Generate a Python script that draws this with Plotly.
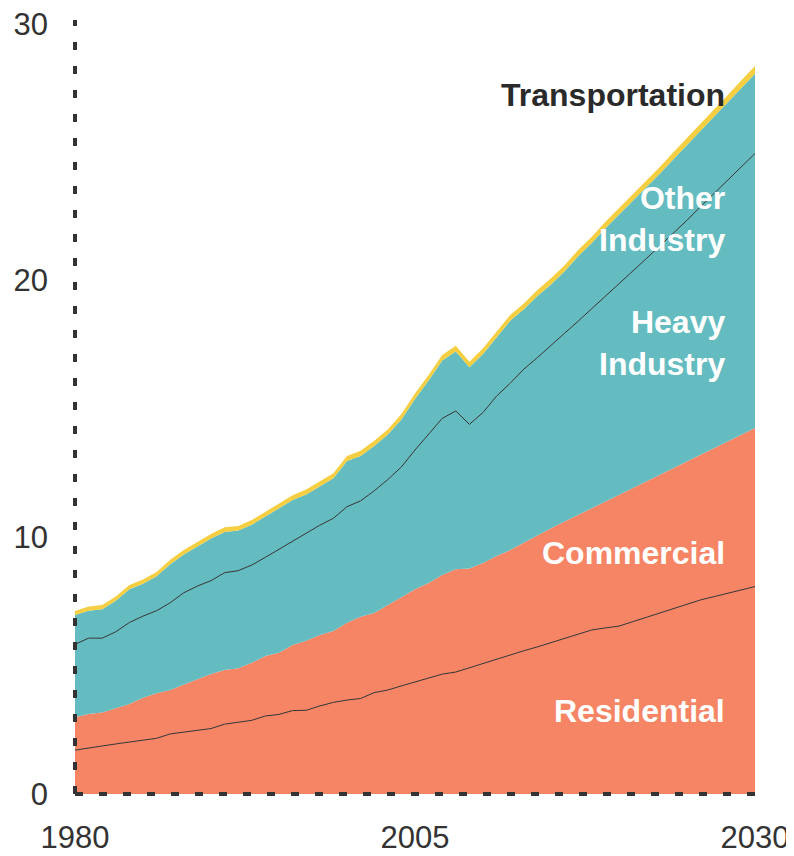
import plotly.graph_objects as go

# years 1980-2030
years = list(range(1980, 2031))

residential = [1.71, 1.78, 1.87, 1.95, 2.03, 2.10, 2.17, 2.34, 2.41, 2.47,
               2.55, 2.72, 2.80, 2.87, 3.04, 3.10, 3.25, 3.26, 3.43, 3.57,
               3.66, 3.72, 3.95, 4.05, 4.21, 4.37, 4.53, 4.67, 4.75, 4.92,
               5.09, 5.26, 5.41, 5.58, 5.73, 5.90, 6.08, 6.23, 6.39, 6.47,
               6.54, 6.71, 6.88, 7.05, 7.25, 7.42, 7.56, 7.69, 7.81, 7.95,
               8.08]
commercial = [1.28, 1.34, 1.30, 1.39, 1.48, 1.65, 1.75, 1.71, 1.86, 2.00,
              2.12, 2.11, 2.10, 2.24, 2.34, 2.40, 2.55, 2.71, 2.76, 2.78,
              3.01, 3.18, 3.10, 3.31, 3.48, 3.61, 3.69, 3.86, 4.00, 3.86,
              3.91, 4.01, 4.09, 4.21, 4.36, 4.45, 4.53, 4.64, 4.74, 4.92,
              5.11, 5.20, 5.29, 5.38, 5.43, 5.52, 5.64, 5.77, 5.92, 6.04,
              6.18]
heavy_industry = [2.84, 2.95, 2.90, 2.98, 3.17, 3.18, 3.22, 3.40, 3.57, 3.63,
                  3.64, 3.79, 3.80, 3.81, 3.84, 4.03, 4.07, 4.21, 4.28, 4.39,
                  4.52, 4.52, 4.76, 4.89, 5.05, 5.42, 5.80, 6.10, 6.17, 5.62,
                  5.86, 6.23, 6.50, 6.76, 6.91, 7.14, 7.34, 7.55, 7.77, 7.99,
                  8.22, 8.44, 8.68, 8.92, 9.16, 9.41, 9.68, 9.94, 10.19, 10.44,
                  10.69]
other_industry = [1.14, 1.07, 1.13, 1.21, 1.30, 1.26, 1.34, 1.50, 1.49, 1.55,
                  1.64, 1.59, 1.56, 1.57, 1.59, 1.58, 1.58, 1.49, 1.51, 1.56,
                  1.78, 1.75, 1.75, 1.75, 1.85, 1.99, 2.09, 2.26, 2.32, 2.22,
                  2.28, 2.29, 2.43, 2.33, 2.40, 2.36, 2.41, 2.53, 2.56, 2.66,
                  2.70, 2.71, 2.77, 2.81, 2.89, 2.93, 2.96, 3.01, 3.02, 3.08,
                  3.11]
transportation = [0.16, 0.16, 0.16, 0.16, 0.16, 0.17, 0.17, 0.17, 0.17, 0.17,
                  0.18, 0.18, 0.18, 0.18, 0.18, 0.19, 0.19, 0.19, 0.19, 0.19,
                  0.20, 0.20, 0.20, 0.20, 0.21, 0.21, 0.21, 0.21, 0.22, 0.22,
                  0.22, 0.22, 0.23, 0.23, 0.23, 0.24, 0.24, 0.24, 0.25, 0.25,
                  0.25, 0.26, 0.26, 0.26, 0.27, 0.27, 0.28, 0.28, 0.29, 0.29,
                  0.30]

x_tickvals = [1980, 2005, 2030]
y_tickvals = [0, 10, 20, 30]

salmon = '#F58565'
teal = '#64BCC0'
yellow = '#F5CE42'
dark = '#333333'

fig = go.Figure()

# stacked areas, thin dark line on top of residential and heavy industry
series = [
    ('Residential', residential, salmon, 1),
    ('Commercial', commercial, salmon, 0),
    ('Heavy Industry', heavy_industry, teal, 1),
    ('Other Industry', other_industry, teal, 0),
    ('Transportation', transportation, yellow, 0),
]
for name, vals, col, lw in series:
    fig.add_trace(
        go.Scatter(
            x=years,
            y=vals,
            name=name,
            mode='lines',
            stackgroup='one',
            fillcolor=col,
            line=dict(color=dark if lw else col, width=lw),
            hoverinfo='skip',
        )
    )

# labels
label_font = dict(family='Liberation Sans, Arial, sans-serif', size=32, color='white')
labels = [
    ('<b>Transportation</b>', 27.23, '#2a2a2a'),
    ('<b>Other<br>Industry</b>', 22.4, 'white'),
    ('<b>Heavy<br>Industry</b>', 17.55, 'white'),
    ('<b>Commercial</b>', 9.39, 'white'),
    ('<b>Residential</b>', 3.23, 'white'),
]
for txt, yv, col in labels:
    fig.add_annotation(
        x=2027.95, y=yv, xref='x', yref='y',
        text=txt, showarrow=False, xanchor='right', yanchor='middle',
        align='right', font=dict(label_font, color=col),
    )

# dotted axes (paper refs so they are not clipped at the plot edge)
fig.add_shape(type='line', xref='paper', yref='paper', x0=0, x1=0, y0=0, y1=1,
              line=dict(color=dark, width=4, dash='8px,16px'), layer='above')
fig.add_shape(type='line', xref='paper', yref='paper', x0=0, x1=1, y0=0, y1=0,
              line=dict(color=dark, width=4, dash='8px,16px'), layer='above')

fig.update_xaxes(
    range=[1980, 2030], tickvals=x_tickvals, ticktext=[str(v) for v in x_tickvals],
    showgrid=False, zeroline=False, showline=False, ticks='',
    ticklabelstandoff=22, automargin=False, ticklabeloverflow='allow',
)
fig.update_yaxes(
    range=[0, 30.15], tickvals=y_tickvals, ticktext=[str(v) for v in y_tickvals],
    showgrid=False, zeroline=False, showline=False, ticks='',
    ticklabelstandoff=26, automargin=False, ticklabeloverflow='allow',
)

fig.update_layout(
    width=794,
    height=856,
    margin=dict(l=67, r=47, t=12, b=70),
    plot_bgcolor='white',
    paper_bgcolor='white',
    showlegend=False,
    font=dict(family='Liberation Sans, Arial, sans-serif', size=31, color='#333333'),
)

fig.write_html("out.html")
